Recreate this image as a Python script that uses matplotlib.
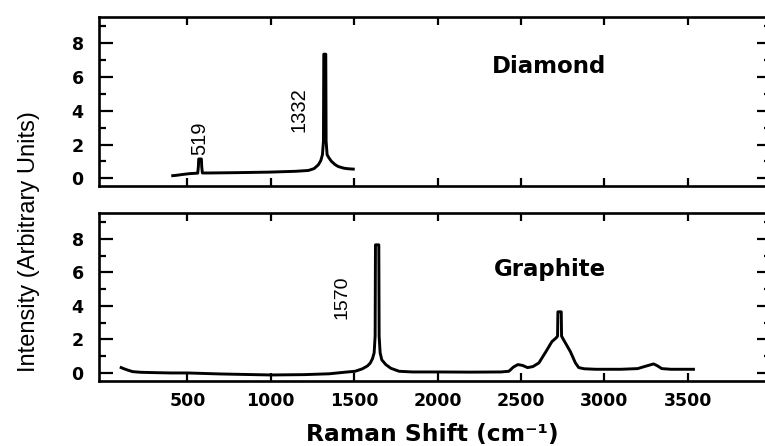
import matplotlib
matplotlib.use("Agg")
import matplotlib.pyplot as plt
from matplotlib.ticker import MultipleLocator

# spektrum noktalari
diamond_shift = [412, 433, 470, 512, 545, 562, 566, 568, 584, 586, 590, 628, 800, 988,
                 1150, 1226, 1260, 1285, 1300, 1310, 1316, 1318, 1330, 1332, 1338, 1350,
                 1363, 1385, 1405, 1440, 1464, 1495]
diamond_int = [0.16, 0.18, 0.23, 0.28, 0.30, 0.31, 0.7, 1.15, 1.15, 0.7, 0.32, 0.32, 0.34, 0.37,
               0.42, 0.47, 0.58, 0.8, 1.05, 1.4, 2.2, 7.35, 7.35, 2.2, 1.4, 1.2,
               1.02, 0.82, 0.7, 0.6, 0.57, 0.55]

graphite_shift = [103, 120, 140, 171, 220, 300, 400, 500, 700, 1000, 1200, 1350, 1450, 1506,
                  1550, 1580, 1596, 1610, 1620, 1626, 1628, 1648, 1650, 1656, 1666, 1690,
                  1720, 1770, 1850, 2000, 2200, 2380, 2428, 2455, 2482, 2510, 2540, 2572,
                  2608, 2650, 2686, 2712, 2720, 2722, 2742, 2744, 2755, 2797, 2827, 2847,
                  2880, 2950, 3100, 3200, 3247, 3296, 3320, 3345, 3400, 3535]
graphite_int = [0.32, 0.25, 0.18, 0.08, 0.04, 0.02, 0.0, 0.0, -0.06, -0.12, -0.1, -0.05, 0.05, 0.1,
                0.25, 0.42, 0.58, 0.85, 1.2, 2.2, 7.65, 7.65, 2.2, 1.2, 0.78, 0.5,
                0.28, 0.1, 0.06, 0.06, 0.05, 0.06, 0.1, 0.35, 0.5, 0.45, 0.32, 0.38,
                0.6, 1.27, 1.87, 2.1, 2.2, 3.65, 3.65, 2.2, 2.0, 1.27, 0.6, 0.32,
                0.25, 0.22, 0.22, 0.26, 0.4, 0.54, 0.42, 0.26, 0.22, 0.22]

x_ticks = [500, 1000, 1500, 2000, 2500, 3000, 3500, 4000]
x_labels = ["500", "1000", "1500", "2000", "2500", "3000", "3500", ""]
y_ticks = [0, 2, 4, 6, 8]

# pik etiketleri: (metin, x, y)
diamond_peaks = [("519", 572, 2.38), ("1332", 1170, 4.05)]
graphite_peaks = [("1570", 1425, 4.54)]

plain = "Liberation Sans"
bold = dict(family="DejaVu Sans", weight="bold")

fig = plt.figure(figsize=(7.65, 4.46), dpi=100)
ax1 = fig.add_axes([99 / 765, 1 - 186.5 / 446, 672 / 765, 169.5 / 446])
ax2 = fig.add_axes([99 / 765, 1 - 381 / 446, 672 / 765, 168 / 446])

for ax in (ax1, ax2):
    ax.set_xlim(-30, 3990)
    ax.set_ylim(-0.48, 9.55)
    ax.set_xticks(x_ticks)
    ax.set_yticks(y_ticks)
    ax.yaxis.set_minor_locator(MultipleLocator(1))
    ax.tick_params(axis="both", which="both", direction="in", top=True, right=True,
                   width=1.6, colors="black")
    ax.tick_params(axis="y", which="major", length=10, pad=11, labelsize=12.5)
    ax.tick_params(axis="y", which="minor", length=5)
    ax.tick_params(axis="x", which="major", length=5.5, pad=8, labelsize=12.5)
    for sp in ax.spines.values():
        sp.set_linewidth(1.9)
    for lab in ax.get_yticklabels():
        lab.set_fontweight("bold")
        lab.set_family("DejaVu Sans")

ax1.set_xticklabels([])
ax2.set_xticklabels(x_labels)
for lab in ax2.get_xticklabels():
    lab.set_fontweight("bold")
    lab.set_family("DejaVu Sans")

ax1.plot(diamond_shift, diamond_int, color="black", lw=2.1, solid_joinstyle="round")
ax2.plot(graphite_shift, graphite_int, color="black", lw=2.1, solid_joinstyle="round")

for txt, x, y in diamond_peaks:
    ax1.text(x, y, txt, rotation=90, ha="center", va="center", fontsize=14.5, family=plain)
for txt, x, y in graphite_peaks:
    ax2.text(x, y, txt, rotation=90, ha="center", va="center", fontsize=14, family=plain)

ax1.text(2667, 6.6, "Diamond", ha="center", va="center", fontsize=16.5, **bold)
ax2.text(2677, 6.15, "Graphite", ha="center", va="center", fontsize=16.5, **bold)

fig.text(29 / 765, 1 - 241.7 / 446, "Intensity (Arbitrary Units)", rotation=90,
         ha="center", va="center", fontsize=17, family=plain)
fig.text(432 / 765, 1 - 434 / 446, "Raman Shift (cm\u207b\u00b9)", ha="center", va="center",
         fontsize=16.8, **bold)

fig.savefig("out.png", dpi=100)
